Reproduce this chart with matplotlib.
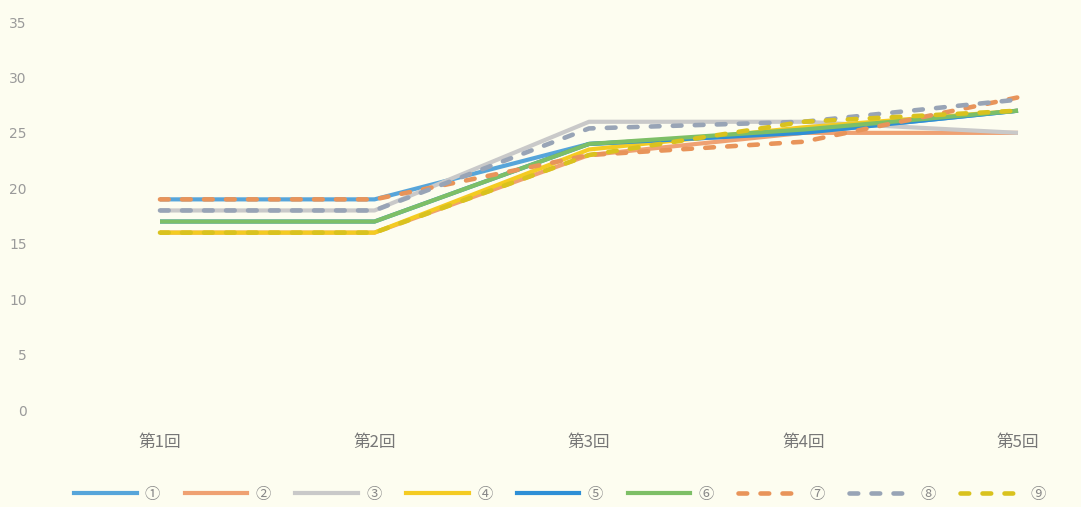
import matplotlib
matplotlib.use("Agg")
import matplotlib.pyplot as plt
from matplotlib.lines import Line2D

# Data
categories = ["第1回", "第2回", "第3回", "第4回", "第5回"]
labels = ["①", "②", "③", "④", "⑤", "⑥", "⑦", "⑧", "⑨"]
s1 = [19, 19, 24, 25, 27]
s2 = [16, 16, 23, 25, 25]
s3 = [18, 18, 26, 26, 25]
s4 = [16, 16, 23.5, 25.5, 27]
s5 = [17, 17, 24, 25, 27]
s6 = [17, 17, 24, 25.3, 27]
s7 = [19, 19, 23, 24.2, 28.2]
s8 = [18, 18, 25.4, 26, 28]
s9 = [16, 16, 23, 26, 27]
series = [s1, s2, s3, s4, s5, s6, s7, s8, s9]
y_ticks = [0, 5, 10, 15, 20, 25, 30, 35]

# Styling
colors = ["#56A5DA", "#EFA172", "#C9C9C9", "#F4CB22", "#2E8FD6",
          "#7DBF66", "#E8945A", "#98A4B6", "#D9C21E"]
dashed = [False] * 6 + [True] * 3
bg = "#FDFDF0"
tick_color = "#9A9A9A"

W, H = 1081, 507
fig = plt.figure(figsize=(W / 100, H / 100), dpi=100, facecolor=bg)

x0_px, dx_px = 160, 214.5
left_px = x0_px - dx_px / 2
y0_px, y35_px = 410, 22
ax = fig.add_axes([left_px / W, (H - y0_px) / H, 1 - left_px / W, (y0_px - y35_px) / H])
ax.set_facecolor(bg)

x = list(range(len(categories)))
for vals, c, d in zip(series, colors, dashed):
    if d:
        ax.plot(x, vals, color=c, lw=3.3, dashes=(1.9, 2.9),
                dash_capstyle="round", solid_joinstyle="round")
    else:
        ax.plot(x, vals, color=c, lw=3.0, solid_capstyle="butt",
                solid_joinstyle="round")

ax.set_xlim(-0.5, (W - x0_px) / dx_px)
ax.set_ylim(0, 35)
ax.set_xticks(x)
ax.set_xticklabels(categories, family=["Noto Sans CJK JP", "DejaVu Sans"],
                   fontsize=12, color="#777777")
ax.set_yticks(y_ticks)
ax.set_yticklabels([str(v) for v in y_ticks], fontsize=10, color=tick_color,
                   family="DejaVu Sans")
ax.tick_params(axis="both", length=0)
ax.tick_params(axis="x", pad=17)
ax.tick_params(axis="y", pad=left_px - 34)
for s in ax.spines.values():
    s.set_visible(False)

# Legend
handles = []
for c, d in zip(colors, dashed):
    if d:
        handles.append(Line2D([], [], color=c, lw=3.3, dashes=(1.9, 2.9),
                              dash_capstyle="round"))
    else:
        handles.append(Line2D([], [], color=c, lw=3.0))
leg = fig.legend(handles, labels, loc="center", ncol=9,
                 bbox_to_anchor=(560 / W, 1 - 494 / H), frameon=False,
                 handlelength=4.1, handletextpad=0.55, columnspacing=1.6,
                 borderpad=0.2,
                 prop={"family": ["Noto Sans CJK JP", "DejaVu Sans"], "size": 11})
for t in leg.get_texts():
    t.set_color("#888888")

fig.savefig("out.png", dpi=100, facecolor=bg)
